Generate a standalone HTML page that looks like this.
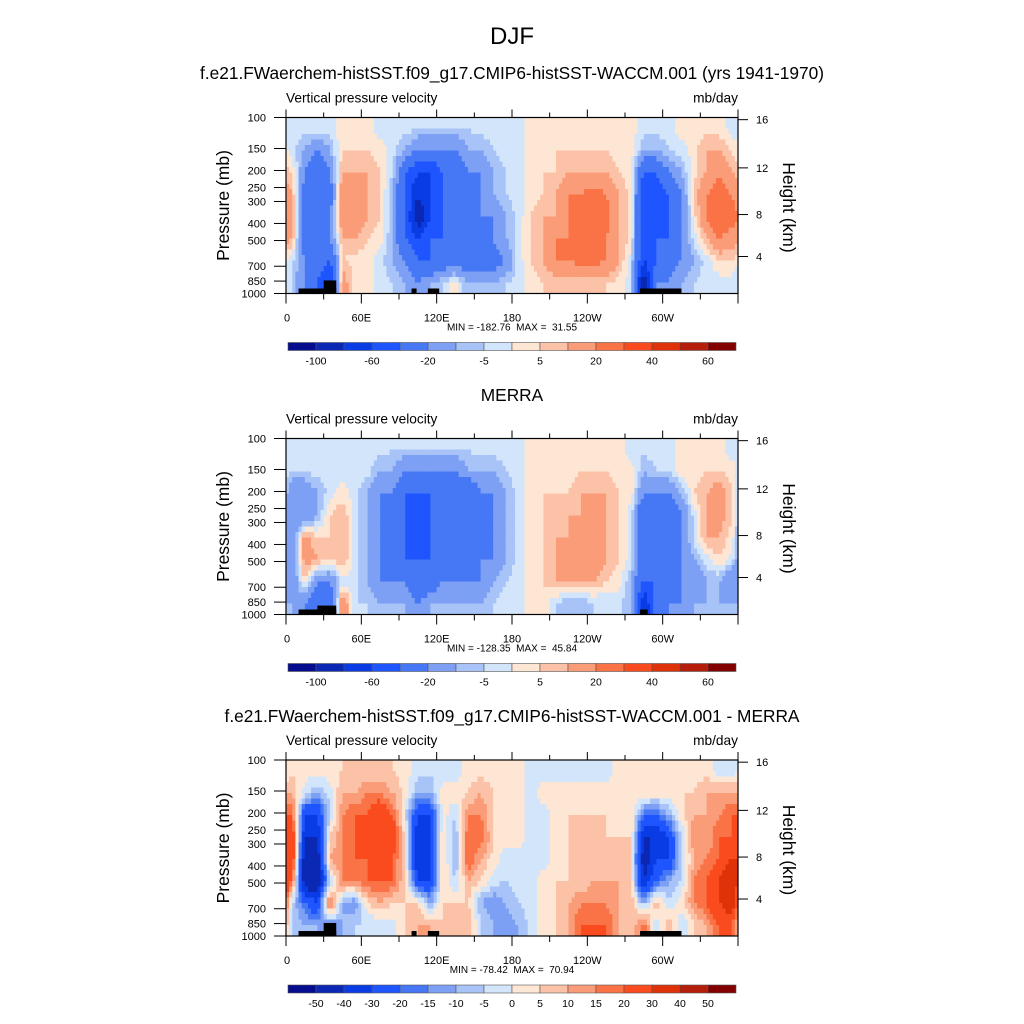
<!DOCTYPE html>
<html><head><meta charset="utf-8">
<style>
html,body{margin:0;padding:0;background:#fff;}
svg{display:block;font-family:"Liberation Sans",Arial,sans-serif;}
text{white-space:pre;}
</style></head>
<body>
<svg id="fig" width="1024" height="1024" viewBox="0 0 1024 1024" xmlns="http://www.w3.org/2000/svg">
<text x="512" y="44" font-size="24" text-anchor="middle">DJF</text>
<text x="512" y="79" font-size="17.3" text-anchor="middle">f.e21.FWaerchem-histSST.f09_g17.CMIP6-histSST-WACCM.001 (yrs 1941-1970)</text>
<text x="512" y="401" font-size="17.3" text-anchor="middle">MERRA</text>
<text x="512" y="722" font-size="17.3" text-anchor="middle">f.e21.FWaerchem-histSST.f09_g17.CMIP6-histSST-WACCM.001 - MERRA</text>
<g id="panels"></g>
</svg>
<script>
// ---- data ----
const lonCenters = [5,15,25,35,45,55,65,75,85,95,105,115,125,135,145,155,165,175,185,195,205,215,225,235,245,255,265,275,285,295,305,315,325,335,345,355];
const pressureTicks = [100,150,200,250,300,400,500,700,850,1000];
const heightTicks = [4,8,12,16];
const lonTickLabels = ["0","60E","120E","180","120W","60W"];
const levels12 = [-100,-80,-60,-40,-20,-10,-5,0,5,10,20,30,40,50,60];
const labels12 = ["-100","-60","-20","-5","5","20","40","60"];
const levels3 = [-50,-40,-30,-20,-15,-10,-5,0,5,10,15,20,30,40,50];
const labels3 = ["-50","-40","-30","-20","-15","-10","-5","0","5","10","15","20","30","40","50"];
// each inner array: one 10-degree column, rows top (100mb) -> bottom (1000mb)
const model = [
[-3,-3,5,10,15,10,-3,-5],[-3,-10,-20,-30,-30,-30,-20,-20],[-3,-20,-40,-40,-40,-30,-30,-40],[-3,-10,-20,-30,-20,-20,-40,-60],
[3,5,10,20,20,10,5,15],[3,5,10,20,15,10,3,3],[3,5,10,10,10,5,3,3],[-3,3,5,5,5,3,-3,-3],
[-3,-3,-5,-10,-10,-10,-10,-5],[-3,-10,-40,-40,-40,-40,-20,-10],[-5,-20,-60,-80,-100,-60,-40,-20],[-5,-20,-60,-60,-60,-40,-40,-10],
[-5,-20,-40,-40,-40,-40,-30,-5],[-5,-20,-40,-30,-30,-30,-30,3],[-5,-10,-20,-30,-20,-40,-30,-10],[-3,-10,-20,-20,-20,-30,-30,-10],
[-3,-5,-10,-10,-20,-20,-30,-10],[-3,-3,-5,-5,-10,-10,-20,-5],[-3,-3,-3,-3,-3,-3,-3,-3],[3,3,3,3,5,5,5,3],
[3,3,5,5,10,10,10,5],[3,5,5,10,10,20,20,5],[3,5,10,20,20,20,20,5],[3,5,10,20,25,25,25,5],
[3,5,10,25,25,25,25,5],[3,5,10,20,25,20,20,5],[3,3,5,10,10,10,10,3],[3,3,3,3,3,3,-3,-3],
[-3,-10,-40,-60,-60,-60,-60,-100],[-3,-10,-40,-60,-60,-40,-40,-20],[-3,-5,-20,-40,-40,-40,-30,-20],[3,-3,-10,-20,-20,-20,-20,-10],
[3,3,3,5,3,-3,-10,-5],[3,10,10,20,20,10,-3,-3],[3,10,20,25,30,20,5,-3],[-3,5,10,20,25,15,5,-3]];
const merra = [
[-3,-5,-20,-20,-20,-20,-20,-10],[-3,-5,-20,-20,15,15,5,-20],[-3,-3,-10,-10,5,10,-20,-40],[-3,-3,-3,5,5,5,-20,-40],
[-3,-3,3,10,10,10,-3,20],[-3,-3,-3,-3,-3,-3,-3,-5],[-3,-3,-10,-10,-10,-10,-10,-5],[-3,-10,-20,-20,-20,-20,-20,-10],
[-5,-10,-20,-40,-40,-30,-20,-10],[-5,-20,-40,-40,-40,-40,-20,-10],[-5,-20,-40,-60,-60,-40,-40,-20],[-5,-20,-40,-40,-40,-40,-30,-10],
[-5,-20,-30,-30,-30,-30,-20,-10],[-5,-20,-40,-40,-40,-40,-20,-10],[-5,-10,-40,-40,-40,-40,-20,-10],[-3,-10,-20,-30,-40,-20,-20,-10],
[-3,-10,-20,-20,-20,-20,-10,-5],[-3,-5,-10,-10,-10,-10,-5,-3],[-3,-3,-3,-3,-3,-3,-3,-3],[3,3,3,3,3,3,3,3],
[3,3,5,5,5,5,5,3],[3,3,5,5,10,10,10,-5],[3,3,5,10,10,10,10,-10],[3,5,10,10,15,15,10,-10],
[3,5,10,20,20,15,10,-5],[3,5,10,10,10,10,5,-5],[3,3,5,5,5,5,3,-3],[-3,3,3,-3,-3,-3,-10,-10],
[-3,-10,-20,-40,-40,-40,-40,-80],[-3,-5,-20,-30,-30,-40,-40,-30],[-3,-5,-20,-40,-40,-40,-30,-20],[3,3,-10,-20,-20,-20,-20,-20],
[3,3,5,-3,-3,-10,-20,-10],[3,5,10,10,10,-3,-10,-10],[3,5,15,15,10,5,-10,-10],[-3,3,5,5,3,-3,-20,-10]];
const diff = [
[3,10,20,30,30,20,-5,-5],[3,-3,-30,-40,-50,-50,-20,-10],[3,-10,-30,-40,-50,-50,-30,-10],[3,-3,-5,5,10,-5,20,-15],
[5,10,15,15,15,15,-10,-10],[5,10,20,20,20,15,-15,-5],[5,15,20,20,20,20,5,-5],[5,15,30,30,30,20,10,-3],
[5,10,20,30,20,20,5,-3],[3,3,-3,3,5,5,5,5],[-3,-10,-30,-40,-40,-30,5,10],[-3,-10,-30,-30,-30,-30,-10,10],
[-3,3,3,5,5,5,5,5],[-3,3,-5,-10,-10,-5,5,5],[3,5,15,20,20,10,5,10],[3,10,15,20,10,5,-10,-5],
[3,5,5,5,3,-3,-15,-10],[3,3,3,3,-3,-5,-10,-15],[3,3,3,3,-3,-3,-5,-10],[-3,-3,-3,-3,-3,-3,-3,-3],
[-3,3,-3,-3,-3,3,3,3],[-3,3,3,3,3,5,5,5],[-3,3,5,5,5,5,10,10],[-3,3,5,5,5,5,15,20],
[-3,3,5,5,5,10,15,20],[-3,3,5,5,5,10,15,20],[3,3,3,5,5,10,10,10],[3,5,5,5,5,5,10,5],
[3,5,-20,-40,-50,-40,-10,20],[3,3,-20,-40,-30,-20,10,-5],[3,3,-10,-30,-30,-10,-5,10],[3,5,3,-5,-5,-5,3,-5],
[3,5,10,15,10,15,15,5],[3,10,10,10,15,20,20,10],[-3,10,15,20,20,30,30,20],[-3,10,20,20,30,40,40,20]];
const topoModel = [[10,40,1000],[30,40,900],[100,104,1000],[113,122,1000],[282,315,1000]];
const topoMerra = [[10,40,1000],[25,40,950],[282,288,1000]];

const colors = ["#060c8e","#0a28b4","#0a3ce6","#1e55ff","#4678f5","#7da0f5","#a8c3f7","#d2e5fa","#fee6d4","#fcc2a8","#fa9c78","#fa7346","#fa4b1e","#e03208","#b41e0a","#820000"];

// ---- layout ----
const NS = "http://www.w3.org/2000/svg";
const X0 = 286, X1 = 738;
function mk(tag, attrs, parent){const e=document.createElementNS(NS,tag);for(const k in attrs)e.setAttribute(k,attrs[k]);parent.appendChild(e);return e;}
function colorFor(v, lev){let i=0;while(i<lev.length && v>=lev[i])i++;return colors[i];}
function stdP(km){const z=km*1000; if(z<=11000) return 1013.25*Math.pow(1-2.25577e-5*z,5.25588); return 226.32*Math.exp(-(z-11000)/6341.6);}

function drawPanel(top, data, lev, labs, minmax, topo, idx){
  const H = 176, bottom = top + H;
  const xs = lon => X0 + (lon/360)*(X1-X0);
  const yP = p => bottom - (Math.log(1000/p)/Math.log(10)) * H;
  const g = mk("g",{},document.getElementById("panels"));
  
  
  const cid = "clip"+idx;
  const cp = mk("clipPath",{id:cid},g); mk("rect",{x:X0,y:top,width:X1-X0,height:H},cp);
  const field = mk("g",{"clip-path":"url(#"+cid+")"},g);
  
  
  const nC = data.length, nR = data[0].length, sub = 4;
  const cw = (X1-X0)/nC/sub, rh = H/nR/sub;
  for(let i=0;i<nC*sub;i++){
    const fx = (i+0.5)/sub - 0.5;
    let c0 = Math.floor(fx), tx = fx - c0;
    for(let j=0;j<nR*sub;j++){
      const fy = (j+0.5)/sub - 0.5;
      let r0 = Math.floor(fy), ty = fy - r0;
      const ca=(c0+nC)%nC, cb=(c0+1)%nC;
      const ra=Math.max(0,r0), rb=Math.min(nR-1,r0+1);
      const v = (1-tx)*(1-ty)*data[ca][ra] + tx*(1-ty)*data[cb][ra] + (1-tx)*ty*data[ca][rb] + tx*ty*data[cb][rb];
      const r = mk("rect",{x:(X0+i*cw).toFixed(2),y:(top+j*rh).toFixed(2),width:(cw+0.6).toFixed(2),height:(rh+0.6).toFixed(2),fill:colorFor(v,lev)},field);
      
      
    }
  }
  for(const t of topo){
    const r = mk("rect",{x:xs(t[0]),y:yP(t[2])-5,width:xs(t[1])-xs(t[0]),height:bottom-(yP(t[2])-5),fill:"#000"},field);
    
    
  }
  const frame = mk("rect",{x:X0,y:top,width:X1-X0,height:H,fill:"none",stroke:"#000","stroke-width":1.2},g);
  
  
  for(const p of pressureTicks){
    const y = yP(p);
    mk("line",{x1:X0-12,x2:X0,y1:y,y2:y,stroke:"#000"},g);
    const t = mk("text",{x:X0-20,y:y+4,"font-size":11,"text-anchor":"end"},g); t.textContent=p;
    
    
  }
  mk("line",{x1:X0,x2:X0,y1:top,y2:bottom+10,stroke:"#000"},g);
  for(const km of heightTicks){
    const y = yP(stdP(km));
    mk("line",{x1:X1,x2:X1+10,y1:y,y2:y,stroke:"#000"},g);
    const t = mk("text",{x:X1+18,y:y+4,"font-size":11},g); t.textContent=km;
    
    
  }
  for(let lon=0;lon<=360;lon+=30){
    const x = xs(lon), major = lon%60===0;
    mk("line",{x1:x,x2:x,y1:bottom,y2:bottom+(major?10:6),stroke:"#000"},g);
    mk("line",{x1:x,x2:x,y1:top,y2:top-(major?8:5),stroke:"#000"},g);
    if(major && lon<360){
      const t = mk("text",{x:x+(lon===0?1:0),y:bottom+28,"font-size":11,"text-anchor":"middle"},g); t.textContent=lonTickLabels[lon/60];
      
      
    }
  }
  const mm = mk("text",{x:512,y:bottom+37,"font-size":10,"text-anchor":"middle"},g); mm.textContent=minmax;
  
  
  const lt = mk("text",{x:X0,y:top-15,"font-size":13.7},g); lt.textContent="Vertical pressure velocity";
  
  
  const ut = mk("text",{x:X1,y:top-15,"font-size":13.7,"text-anchor":"end"},g); ut.textContent="mb/day";
  
  
  const yl = mk("text",{x:0,y:0,"font-size":17.5,"text-anchor":"middle",transform:"translate(229,"+(top+88)+") rotate(-90)"},g); yl.textContent="Pressure (mb)";
  
  
  const hl = mk("text",{x:0,y:0,"font-size":17.5,"text-anchor":"middle",transform:"translate(783,"+(top+90)+") rotate(90)"},g); hl.textContent="Height (km)";
  
  
  const cbY = bottom + 49, cbX0 = 288, cbW = 448, bw = cbW/16;
  const cb = mk("g",{},g);
  
  
  for(let k=0;k<16;k++){
    const r = mk("rect",{x:cbX0+k*bw,y:cbY,width:bw,height:8,fill:colors[k],stroke:"#555","stroke-width":0.6},cb);
    
    
  }
  const step = labs.length===8 ? 2 : 1;
  labs.forEach((s,n)=>{
    const k = 1 + n*step;
    const t = mk("text",{x:cbX0+k*bw,y:cbY+22,"font-size":10.5,"text-anchor":"middle"},cb); t.textContent=s;
    
    
  });
}
drawPanel(117.5, model, levels12, labels12, "MIN = -182.76  MAX =  31.55", topoModel, 1);
drawPanel(438.5, merra, levels12, labels12, "MIN = -128.35  MAX =  45.84", topoMerra, 2);
drawPanel(760, diff, levels3, labels3, "MIN = -78.42  MAX =  70.94", topoModel, 3);
</script>
</body></html>
